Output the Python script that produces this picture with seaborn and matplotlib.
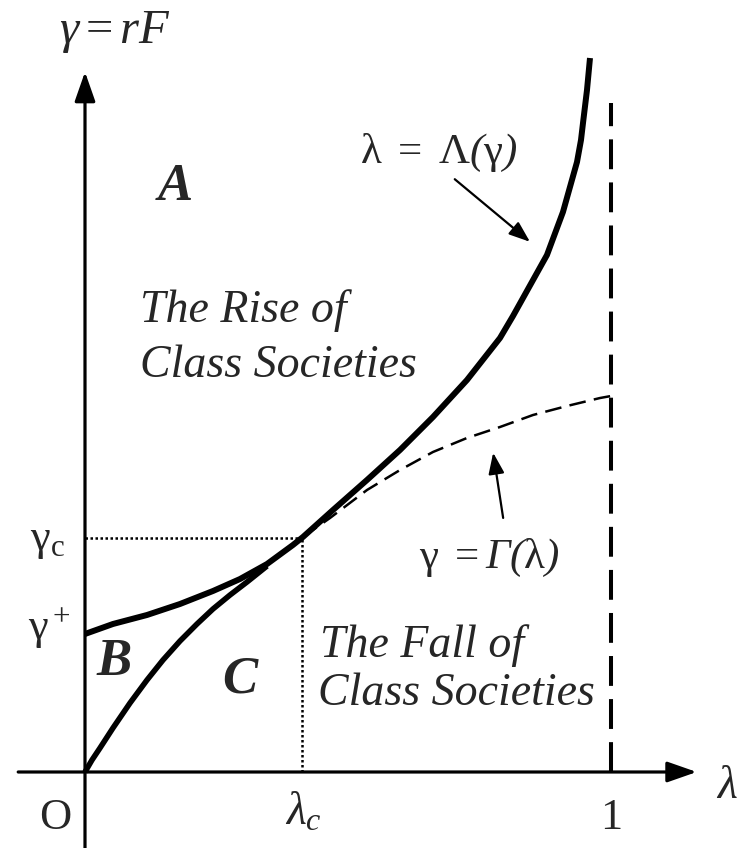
import numpy as np
import pandas as pd
import seaborn as sns
import matplotlib
matplotlib.use('Agg')
import matplotlib.pyplot as plt

# curve points (lambda, gamma)
lam_upper = [0.0, 0.0532, 0.1179, 0.1806, 0.2433, 0.2947, 0.3460, 0.3954, 0.4144, 0.4715, 0.5361,
             0.5989, 0.6616, 0.7262, 0.7890, 0.8137, 0.8783, 0.9087, 0.9354, 0.9430, 0.9468, 0.9544, 0.9601]
gam_upper = [0.2624, 0.2814, 0.2985, 0.3194, 0.3441, 0.3669, 0.3954, 0.4316, 0.4468, 0.4981, 0.5551,
             0.6122, 0.6749, 0.7452, 0.8251, 0.8669, 0.9829, 1.0646, 1.1597, 1.2015, 1.2338, 1.2966, 1.3574]

lam_lower = [0.0, 0.0133, 0.0285, 0.0532, 0.0856, 0.1179, 0.1483, 0.1806, 0.2129, 0.2433, 0.2757, 0.3080, 0.3460]
gam_lower = [0.0, 0.0228, 0.0456, 0.0837, 0.1312, 0.1749, 0.2129, 0.2490, 0.2814, 0.3099, 0.3365, 0.3612, 0.3916]

lam_gamma = [0.4144, 0.4658, 0.5361, 0.5989, 0.6616, 0.7262, 0.7890, 0.8517, 0.9163, 0.9791, 1.0]
gam_gamma = [0.4468, 0.4829, 0.5361, 0.5741, 0.6084, 0.6350, 0.6559, 0.6787, 0.6958, 0.7110, 0.7148]

lam_c = 0.412
gam_c = 0.445
lam_one = 1.0
dash_top = 1.272

sns.set_style('white')
plt.rcParams['font.family'] = ['Liberation Serif', 'DejaVu Serif']
plt.rcParams['mathtext.fontset'] = 'custom'
plt.rcParams['mathtext.rm'] = 'Liberation Serif'
plt.rcParams['mathtext.it'] = 'Liberation Serif:italic'
plt.rcParams['mathtext.bf'] = 'Liberation Serif:bold'
plt.rcParams['mathtext.sf'] = 'Liberation Serif:italic'
plt.rcParams['lines.scale_dashes'] = False

fig = plt.figure(figsize=(7.43, 8.48), dpi=100)
ax = fig.add_axes([0, 0, 1, 1])
ax.set_xlim(-0.1616, 1.251)
ax.set_ylim(-0.1445, 1.4677)
ax.axis('off')

up = pd.DataFrame({'lam': lam_upper, 'gam': gam_upper})
lo = pd.DataFrame({'lam': lam_lower, 'gam': gam_lower})
gg = pd.DataFrame({'lam': lam_gamma, 'gam': gam_gamma})

sns.lineplot(data=up, x='lam', y='gam', sort=False, estimator=None,
             color='black', lw=4.3, ax=ax, solid_capstyle='butt', solid_joinstyle='round')
sns.lineplot(data=lo, x='lam', y='gam', sort=False, estimator=None,
             color='black', lw=4.0, ax=ax, solid_capstyle='butt', solid_joinstyle='round')
sns.lineplot(data=gg, x='lam', y='gam', sort=False, estimator=None,
             color='black', lw=1.8, ax=ax)
ax.lines[-1].set_dashes((12, 6))

# axes with arrows
head = '-|>,head_width=0.35,head_length=1.0'
ax.annotate('', xy=(0, 1.331), xytext=(0, -0.1445),
            arrowprops=dict(arrowstyle=head, lw=2.3, color='black',
                            mutation_scale=18, shrinkA=0, shrinkB=0))
ax.annotate('', xy=(1.163, 0), xytext=(-0.127, 0),
            arrowprops=dict(arrowstyle=head, lw=2.3, color='black',
                            mutation_scale=18, shrinkA=0, shrinkB=0))

# vertical dashed line at lambda = 1
ax.plot([lam_one, lam_one], [0, dash_top], color='black', lw=2.9, dashes=(21.5, 9.5))

# dotted guides
ax.plot([0, lam_c], [gam_c, gam_c], color='black', lw=1.8, dashes=(1.8, 1.8))
ax.plot([lam_c, lam_c], [0, gam_c], color='black', lw=1.8, dashes=(1.8, 1.8))

# pointer arrows
small = '-|>,head_width=0.3,head_length=0.8'
ax.annotate('', xy=(0.846, 1.008), xytext=(0.703, 1.127),
            arrowprops=dict(arrowstyle=small, lw=1.6, color='black',
                            mutation_scale=16, shrinkA=0, shrinkB=0))
ax.annotate('', xy=(0.776, 0.607), xytext=(0.795, 0.483),
            arrowprops=dict(arrowstyle=small, lw=1.6, color='black',
                            mutation_scale=16, shrinkA=0, shrinkB=0))

fs = 33
ax.text(0.057, 1.386, r'$\gamma = rF$', fontsize=35, ha='center', va='baseline')
ax.text(0.171, 1.0875, 'A', fontsize=38, style='italic', weight='bold', ha='center', va='baseline')
ax.text(0.1046, 0.8555, 'The Rise of', fontsize=fs, style='italic', ha='left', va='baseline')
ax.text(0.1046, 0.751, 'Class Societies', fontsize=fs, style='italic', ha='left', va='baseline')
ax.text(0.673, 1.158, r'$\mathrm{\lambda\ =\ \Lambda}\mathsf{(}\mathrm{\gamma}\mathsf{)}$',
        fontsize=31, ha='center', va='baseline')
ax.text(0.768, 0.388, r'$\mathrm{\gamma\ =}\mathsf{\Gamma(}\mathrm{\lambda}\mathsf{)}$',
        fontsize=31, ha='center', va='baseline')
ax.text(0.4468, 0.2186, 'The Fall of', fontsize=fs, style='italic', ha='left', va='baseline')
ax.text(0.443, 0.1274, 'Class Societies', fontsize=fs, style='italic', ha='left', va='baseline')
ax.text(0.0551, 0.1844, 'B', fontsize=38, style='italic', weight='bold', ha='center', va='baseline')
ax.text(0.2947, 0.152, 'C', fontsize=38, style='italic', weight='bold', ha='center', va='baseline')
ax.text(-0.072, 0.422, r'$\mathrm{\gamma_c}$', fontsize=32, ha='center', va='baseline')
ax.text(-0.067, 0.250, r'$\mathrm{\gamma^+}$', fontsize=32, ha='center', va='baseline')
ax.text(-0.057, -0.1084, 'O', fontsize=32, ha='center', va='baseline')
ax.text(0.4144, -0.100, r'$\lambda_c$', fontsize=33, ha='center', va='baseline')
ax.text(1.0, -0.1084, '1', fontsize=32, ha='center', va='baseline')
ax.text(1.2205, -0.049, r'$\lambda$', fontsize=33, ha='center', va='baseline')

fig.savefig('out.png', dpi=100)
